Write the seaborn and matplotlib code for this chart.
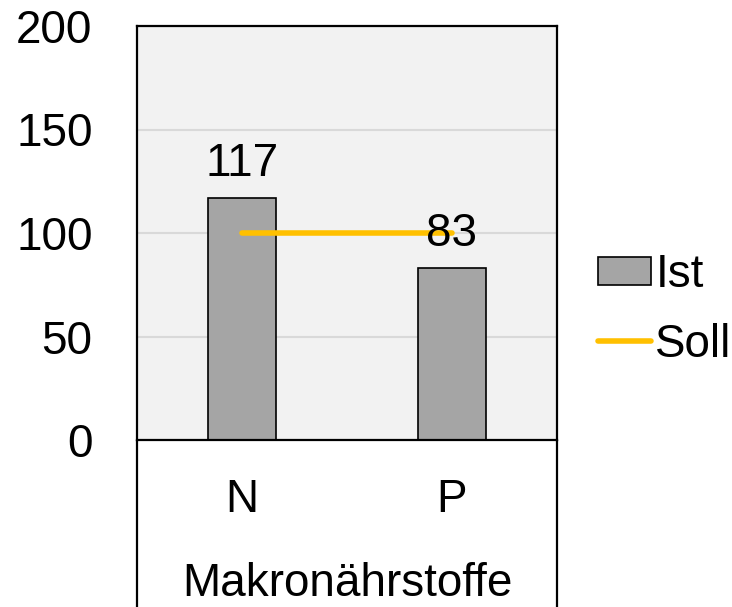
import matplotlib
matplotlib.use("Agg")
import matplotlib.pyplot as plt
from matplotlib.lines import Line2D
from matplotlib.patches import Patch
import seaborn as sns
import pandas as pd

# Chart data
categories = ["N", "P"]
ist_values = [117, 83]
soll_values = [100, 100]
y_ticks = [0, 50, 100, 150, 200]
axis_title = "Makronährstoffe"
series_names = ["Ist", "Soll"]

sns.set_theme(style="white")
plt.rcParams["font.family"] = ["Liberation Sans", "DejaVu Sans"]
plt.rcParams["text.color"] = "black"

FS = 33
BAR_COLOR = "#A5A5A5"
LINE_COLOR = "#FFC000"

W, H = 732, 607
fig = plt.figure(figsize=(W / 100, H / 100), dpi=100)
left, right, top, bottom = 137, 557, 26, 440
ax = fig.add_axes([left / W, 1 - bottom / H, (right - left) / W, (bottom - top) / H])

df = pd.DataFrame({"Kategorie": categories, "Ist": ist_values, "Soll": soll_values})

sns.barplot(data=df, x="Kategorie", y="Ist", color=BAR_COLOR, saturation=1,
            width=0.324, edgecolor="black", linewidth=1.2, ax=ax, zorder=2)
sns.pointplot(data=df, x="Kategorie", y="Soll", color=LINE_COLOR, markers="",
              linewidth=4, errorbar=None, ax=ax, zorder=3)
for ln in ax.lines:
    ln.set_solid_capstyle("round")

ax.bar_label(ax.containers[0], fmt="%g", padding=8.5, fontsize=FS, color="black")

ax.set_ylim(0, 200)
ax.set_xlim(-0.5, 1.5)
ax.set_yticks(y_ticks)
ax.set_facecolor("#f2f2f2")
ax.yaxis.grid(True, color="#d9d9d9", linewidth=1.5)
ax.xaxis.grid(False)
ax.set_axisbelow(True)
for s in ax.spines.values():
    s.set_visible(True)
    s.set_color("black")
    s.set_linewidth(1.6)

ax.tick_params(axis="y", length=0, pad=32, labelsize=FS, labelcolor="black")
ax.tick_params(axis="x", length=0, pad=27, labelsize=FS, labelcolor="black")
ax.set_ylabel("")
ax.set_xlabel(axis_title, fontsize=FS, labelpad=29, color="black")

# Category-axis frame continuing below the plot area
for xpx in (left, right):
    fig.add_artist(Line2D([xpx / W, xpx / W], [0, 1 - bottom / H],
                          transform=fig.transFigure, color="black", lw=1.6))

handles = [
    Patch(facecolor=BAR_COLOR, edgecolor="black", linewidth=1.2),
    Line2D([], [], color=LINE_COLOR, lw=4, solid_capstyle="round"),
]
fig.legend(handles, series_names, loc="center left",
           bbox_to_anchor=(598 / W, 1 - 310 / H), frameon=False,
           fontsize=FS, borderpad=0, borderaxespad=0, handlelength=1.15,
           handleheight=0.57, handletextpad=0.1, labelspacing=0.55,
           labelcolor="black")

fig.savefig("out.png", dpi=100)
